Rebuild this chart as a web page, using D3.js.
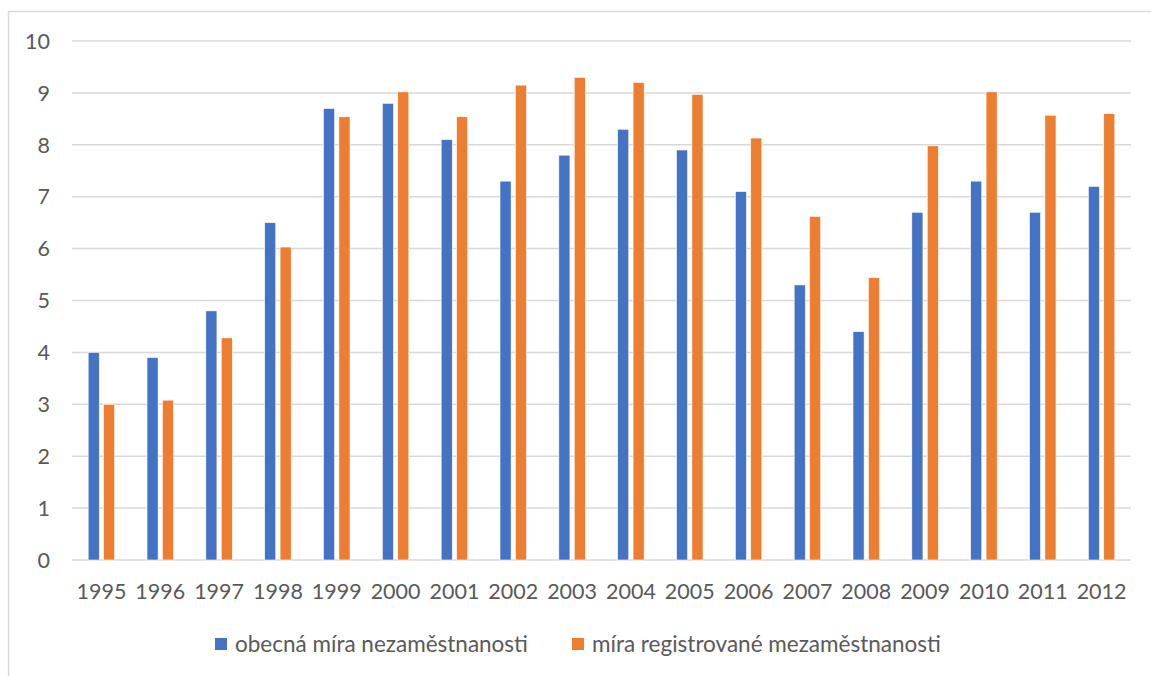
<!DOCTYPE html>
<html>
<head>
<meta charset="utf-8">
<script src="https://cdn.jsdelivr.net/npm/d3@7"></script>
<style>
  body { margin: 0; background: #fff; }
  text { font-family: Lato, "Open Sans", sans-serif; fill: #595959; }
</style>
</head>
<body>
<svg id="chart" width="1151" height="676"></svg>
<script>
const years = ["1995","1996","1997","1998","1999","2000","2001","2002","2003","2004",
               "2005","2006","2007","2008","2009","2010","2011","2012"]
const obecna = [4.0, 3.9, 4.8, 6.5, 8.7, 8.8, 8.1, 7.3, 7.8, 8.3, 7.9, 7.1, 5.3, 4.4, 6.7, 7.3, 6.7, 7.2]
const registrovana = [3.0, 3.08, 4.28, 6.03, 8.54, 9.02, 8.54, 9.15, 9.3, 9.2, 8.97, 8.13, 6.62, 5.44, 7.98, 9.02, 8.57, 8.6]
const seriesNames = ["obecná míra nezaměstnanosti", "míra registrované mezaměstnanosti"]
const colors = ["#4472c4", "#ed7d31"]
const yTicks = [0, 1, 2, 3, 4, 5, 6, 7, 8, 9, 10]

const svg = d3.select("#chart")
const plotL = 72, plotR = 1131, plotT = 41, plotB = 560

// outer frame of the chart object
svg.append("rect")
    .attr("x", 8.5).attr("y", 11.5)
    .attr("width", 1160).attr("height", 700)
    .attr("fill", "none").attr("stroke", "#d9d9d9").attr("stroke-width", 1.5)

const x = d3.scaleBand().domain(years).range([plotL, plotR])
const y = d3.scaleLinear().domain([0, 10]).range([plotB, plotT])
const inner = d3.scaleBand().domain([0, 1]).range([0, x.bandwidth()])
    .paddingOuter(1.05).paddingInner(0.28)

// gridlines
svg.append("g").selectAll("line")
    .data(yTicks)
  .enter()
    .append("line")
    .attr("x1", plotL).attr("x2", plotR)
    .attr("y1", d => y(d)).attr("y2", d => y(d))
    .attr("stroke", "#d9d9d9").attr("stroke-width", 1.5)

// y labels
svg.append("g").selectAll("text")
    .data(yTicks)
  .enter()
    .append("text")
    .attr("x", 50).attr("y", d => y(d))
    .attr("dy", "0.36em")
    .attr("text-anchor", "end")
    .attr("font-size", 21.5)
    .text(d => d)

// bars
const groups = svg.append("g").selectAll("g")
    .data(years)
  .enter()
    .append("g")
    .attr("transform", d => `translate(${x(d)},0)`)

groups.selectAll("rect")
    .data((d, i) => [obecna[i], registrovana[i]])
  .enter()
    .append("rect")
    .attr("x", (d, j) => inner(j))
    .attr("width", inner.bandwidth())
    .attr("y", d => y(d))
    .attr("height", d => y(0) - y(d))
    .attr("fill", (d, j) => colors[j])
    .attr("stroke", "#fff").attr("stroke-width", 0.6)

// x labels
svg.append("g").selectAll("text")
    .data(years)
  .enter()
    .append("text")
    .attr("x", d => x(d) + x.bandwidth() / 2)
    .attr("y", 599)
    .attr("text-anchor", "middle")
    .attr("font-size", 21.5)
    .text(d => d)

// legend
const legendX = [215, 572]
const legend = svg.append("g").selectAll("g")
    .data(seriesNames)
  .enter()
    .append("g")
    .attr("transform", (d, i) => `translate(${legendX[i]},638)`)

legend.append("rect")
    .attr("width", 12).attr("height", 12)
    .attr("fill", (d, i) => colors[i])

legend.append("text")
    .attr("x", 20).attr("y", 6)
    .attr("dy", "0.36em")
    .attr("font-size", 22.5)
    .text(d => d)
</script>
</body>
</html>
